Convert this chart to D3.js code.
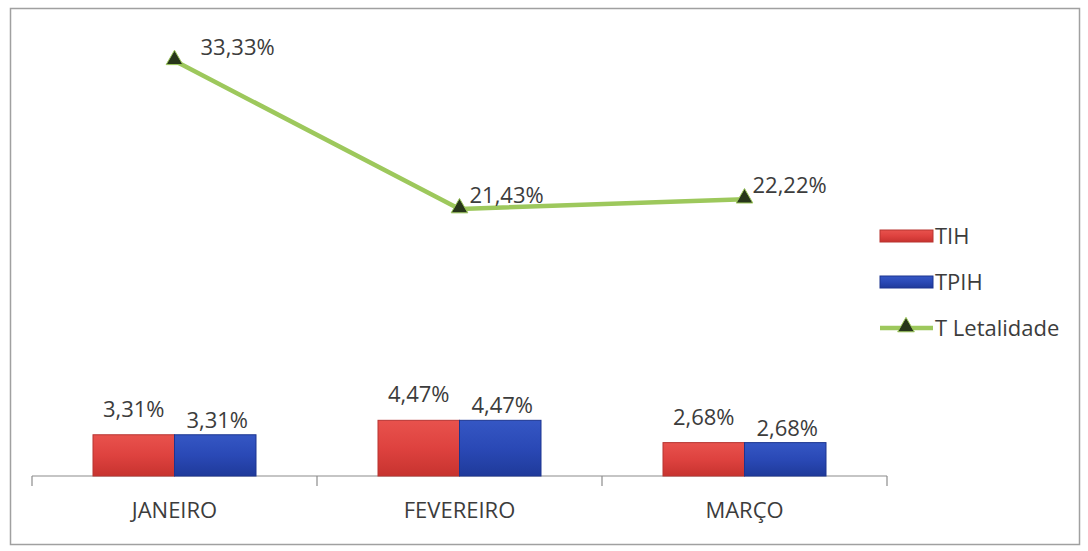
<!DOCTYPE html>
<html><head><meta charset="utf-8">
<script src="https://cdn.jsdelivr.net/npm/d3@7"></script>
<style>body{margin:0;background:#fff}svg{display:block}text{font-family:"Open Sans","Noto Sans",sans-serif;fill:#3c3c3c}</style>
</head><body><svg id="c" width="1088" height="551"></svg>
<script>
const categories = ["JANEIRO","FEVEREIRO","MARÇO"];
const tih = [3.31, 4.47, 2.68];
const tpih = [3.31, 4.47, 2.68];
const letalidade = [33.33, 21.43, 22.22];
const seriesNames = ["TIH","TPIH","T Letalidade"];
const fmt = v => v.toFixed(2).replace(".", ",") + "%";

const FS = 22;
const svg = d3.select("#c");
const defs = svg.append("defs");
function grad(id, c1, c2, c3){
  const g = defs.append("linearGradient").attr("id", id).attr("x1",0).attr("y1",0).attr("x2",0).attr("y2",1);
  g.append("stop").attr("offset","0%").attr("stop-color",c1);
  g.append("stop").attr("offset","50%").attr("stop-color",c2);
  g.append("stop").attr("offset","100%").attr("stop-color",c3);
}
grad("gRed", "#e8524d", "#de423f", "#c7332f");
grad("gBlue", "#3557c4", "#2a49b6", "#1f3a9a");

svg.append("rect").attr("x",10.5).attr("y",8.5).attr("width",1069).attr("height",536)
  .attr("fill","#fff").attr("stroke","#a0a0a0").attr("stroke-width",1.5);

const x = d3.scaleBand().domain(categories).range([32, 887]).padding(0);
const groupW = 163;
const xs = d3.scaleBand().domain(["TIH","TPIH"]).range([0, groupW]).padding(0);
const y = d3.scaleLinear().domain([0, 35]).range([476, 40]);

// axis
const ag = svg.append("g").attr("transform","translate(0,476)");
ag.append("line").attr("x1",32).attr("x2",887).attr("stroke","#8c8c8c").attr("stroke-width",1.2);
const bounds = categories.map(c => x(c)).concat([x(categories[categories.length-1]) + x.bandwidth()]);
ag.selectAll("line.tk").data(bounds).join("line").attr("class","tk")
  .attr("x1",d=>d).attr("x2",d=>d).attr("y1",0).attr("y2",10).attr("stroke","#8c8c8c").attr("stroke-width",1.2);
ag.selectAll("text.cat").data(categories).join("text").attr("class","cat")
  .attr("x",d=>x(d)+x.bandwidth()/2).attr("y",42).attr("text-anchor","middle")
  .attr("font-size",FS).text(d=>d);

// bars
const barData = [];
categories.forEach((c,i)=>{
  barData.push({c, s:"TIH", v:tih[i]});
  barData.push({c, s:"TPIH", v:tpih[i]});
});
const gx = c => x(c) + (x.bandwidth()-groupW)/2;
svg.selectAll("rect.bar").data(barData).join("rect").attr("class","bar")
  .attr("x", d=>gx(d.c)+xs(d.s)).attr("width", xs.bandwidth())
  .attr("y", d=>y(d.v)).attr("height", d=>y(0)-y(d.v))
  .attr("fill", d=>d.s==="TIH" ? "url(#gRed)" : "url(#gBlue)")
  .attr("stroke", d=>d.s==="TIH" ? "#b83431" : "#1c3590").attr("stroke-width",1);
svg.selectAll("text.bl").data(barData).join("text").attr("class","bl")
  .attr("x", d=>gx(d.c)+xs(d.s)+xs.bandwidth()/2 + (d.s==="TIH"? 0 : 2))
  .attr("y", d=>y(d.v) - (d.s==="TIH" ? 18 : 7))
  .attr("text-anchor","middle").attr("font-size",FS).text(d=>fmt(d.v));

// line
const pts = categories.map((c,i)=>({c, v:letalidade[i]}));
const cx = c => x(c)+x.bandwidth()/2;
svg.append("path").datum(pts)
  .attr("d", d3.line().x(d=>cx(d.c)).y(d=>y(d.v)))
  .attr("fill","none").attr("stroke","#9dc85c").attr("stroke-width",4.5).attr("stroke-linejoin","round");
const tri = d3.symbol().type(d3.symbolTriangle).size(120);
svg.selectAll("path.mk").data(pts).join("path").attr("class","mk")
  .attr("transform", d=>`translate(${cx(d.c)},${y(d.v)-1})`).attr("d", tri)
  .attr("fill","#27361a").attr("stroke","#9dc85c").attr("stroke-width",1);
const labelDx = [26, 10, 8];
svg.selectAll("text.ll").data(pts).join("text").attr("class","ll")
  .attr("x", (d,i)=>cx(d.c)+labelDx[i]).attr("y", d=>y(d.v)-6)
  .attr("font-size",FS).text(d=>fmt(d.v));

// legend
const lg = svg.append("g");
const ly = [236, 282, 328];
lg.append("rect").attr("x",880).attr("y",ly[0]-6).attr("width",53).attr("height",12).attr("fill","url(#gRed)").attr("stroke","#b83431");
lg.append("rect").attr("x",880).attr("y",ly[1]-6).attr("width",53).attr("height",12).attr("fill","url(#gBlue)").attr("stroke","#1c3590");
lg.append("line").attr("x1",880).attr("x2",933).attr("y1",ly[2]).attr("y2",ly[2]).attr("stroke","#9dc85c").attr("stroke-width",4.5);
lg.append("path").attr("transform",`translate(906,${ly[2]-1})`).attr("d",tri).attr("fill","#27361a").attr("stroke","#9dc85c");
lg.selectAll("text").data(seriesNames).join("text")
  .attr("x",935).attr("y",(d,i)=>ly[i]+8).attr("font-size",FS).text(d=>d);
</script></body></html>
